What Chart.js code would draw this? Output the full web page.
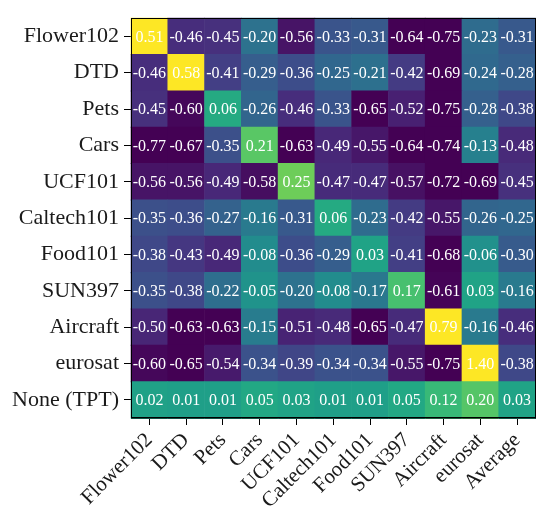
<!DOCTYPE html>
<html>
<head>
<meta charset="utf-8">
<script src="https://cdn.jsdelivr.net/npm/chart.js@4"></script>
<style>
html,body{margin:0;padding:0;background:#fff;}
#wrap{width:540px;height:514px;position:relative;}
</style>
</head>
<body>
<div id="wrap"><canvas id="c"></canvas></div>
<script>
const rowLabels = ['Flower102','DTD','Pets','Cars','UCF101','Caltech101','Food101','SUN397','Aircraft','eurosat','None (TPT)'];
const colLabels = ['Flower102','DTD','Pets','Cars','UCF101','Caltech101','Food101','SUN397','Aircraft','eurosat','Average'];

const rowFlower102  = [ 0.51,-0.46,-0.45,-0.20,-0.56,-0.33,-0.31,-0.64,-0.75,-0.23,-0.31];
const rowDTD        = [-0.46, 0.58,-0.41,-0.29,-0.36,-0.25,-0.21,-0.42,-0.69,-0.24,-0.28];
const rowPets       = [-0.45,-0.60, 0.06,-0.26,-0.46,-0.33,-0.65,-0.52,-0.75,-0.28,-0.38];
const rowCars       = [-0.77,-0.67,-0.35, 0.21,-0.63,-0.49,-0.55,-0.64,-0.74,-0.13,-0.48];
const rowUCF101     = [-0.56,-0.56,-0.49,-0.58, 0.25,-0.47,-0.47,-0.57,-0.72,-0.69,-0.45];
const rowCaltech101 = [-0.35,-0.36,-0.27,-0.16,-0.31, 0.06,-0.23,-0.42,-0.55,-0.26,-0.25];
const rowFood101    = [-0.38,-0.43,-0.49,-0.08,-0.36,-0.29, 0.03,-0.41,-0.68,-0.06,-0.30];
const rowSUN397     = [-0.35,-0.38,-0.22,-0.05,-0.20,-0.08,-0.17, 0.17,-0.61, 0.03,-0.16];
const rowAircraft   = [-0.50,-0.63,-0.63,-0.15,-0.51,-0.48,-0.65,-0.47, 0.79,-0.16,-0.46];
const rowEurosat    = [-0.60,-0.65,-0.54,-0.34,-0.39,-0.34,-0.34,-0.55,-0.75, 1.40,-0.38];
const rowNone       = [ 0.02, 0.01, 0.01, 0.05, 0.03, 0.01, 0.01, 0.05, 0.12, 0.20, 0.03];

const matrix = [rowFlower102,rowDTD,rowPets,rowCars,rowUCF101,rowCaltech101,rowFood101,rowSUN397,rowAircraft,rowEurosat,rowNone];

const VMIN = -0.62, VMAX = 0.5;
const viridisStops = ['#440154','#471365','#482475','#472f7d','#414487','#3b528b','#355f8d','#2f6c8e','#2a788e','#25838e','#21918c','#1e9c89','#22a884','#35b779','#44bf70','#5ec962','#7ad151','#9bd93c','#bddf26','#dde318','#fde725'];
function hex2rgb(h){return [parseInt(h.slice(1,3),16),parseInt(h.slice(3,5),16),parseInt(h.slice(5,7),16)];}
function viridis(v){
  let t = (v - VMIN)/(VMAX - VMIN);
  t = Math.max(0, Math.min(1, t));
  const n = viridisStops.length - 1;
  const p = t*n, i = Math.min(n-1, Math.floor(p)), f = p - i;
  const a = hex2rgb(viridisStops[i]), b = hex2rgb(viridisStops[i+1]);
  const c = a.map((x,k)=>Math.round(x + (b[k]-x)*f));
  return 'rgb('+c.join(',')+')';
}

const points = [];
matrix.forEach((row,i)=>row.forEach((v,j)=>points.push({x:colLabels[j], y:rowLabels[i], v:v})));

const FONT = 'Liberation Serif';
Chart.defaults.font.family = FONT;

const cellText = {
  id:'cellText',
  afterDatasetsDraw(chart){
    const ctx = chart.ctx;
    const meta = chart.getDatasetMeta(0);
    ctx.save();
    ctx.fillStyle = '#ffffff';
    ctx.font = '16px "Liberation Serif"';
    ctx.textAlign = 'center';
    ctx.textBaseline = 'middle';
    meta.data.forEach((el,k)=>{
      const v = points[k].v;
      ctx.fillText(v.toFixed(2), el.x, el.y + 1);
    });
    const a = chart.chartArea;
    ctx.strokeStyle = '#000';
    ctx.lineWidth = 1;
    ctx.strokeRect(Math.round(a.left)+0.5, Math.round(a.top)+0.5, Math.round(a.right-a.left)-1, Math.round(a.bottom-a.top)-1);
    ctx.restore();
  }
};

function cellRadius(ctx){
  const a = ctx.chart.chartArea;
  if(!a) return 0;
  const cw = (a.right-a.left)/colLabels.length;
  const ch = (a.bottom-a.top)/rowLabels.length;
  return (Math.max(cw,ch)+0.6)/Math.SQRT2;
}

new Chart(document.getElementById('c'), {
  type:'scatter',
  data:{
    datasets:[{
      data: points,
      pointStyle:'rect',
      pointRadius: cellRadius,
      pointHoverRadius: cellRadius,
      borderWidth:0,
      backgroundColor: (ctx)=> ctx.raw ? viridis(ctx.raw.v) : '#000'
    }]
  },
  options:{
    responsive:true,
    maintainAspectRatio:false,
    animation:false,
    layout:{padding:{top:10,right:4.5,left:0,bottom:0}},
    plugins:{legend:{display:false},tooltip:{enabled:false}},
    scales:{
      x:{
        type:'category', labels: colLabels, offset:true,
        grid:{display:true, drawOnChartArea:false, drawTicks:true, tickLength:7, color:'#000', offset:false},
        border:{display:true, color:'#000'},
        ticks:{autoSkip:false, maxRotation:45, minRotation:45, color:'#1a1a1a', font:{family:FONT, size:21}, padding:3},
        afterFit(s){ s.height = 96; }
      },
      y:{
        type:'category', labels: rowLabels, offset:true,
        grid:{display:true, drawOnChartArea:false, drawTicks:true, tickLength:7, color:'#000', offset:false},
        border:{display:true, color:'#000'},
        ticks:{autoSkip:false, color:'#1a1a1a', font:{family:FONT, size:22}, padding:5},
        afterFit(s){ s.width = 131; }
      }
    }
  },
  plugins:[cellText]
});
</script>
</body>
</html>
